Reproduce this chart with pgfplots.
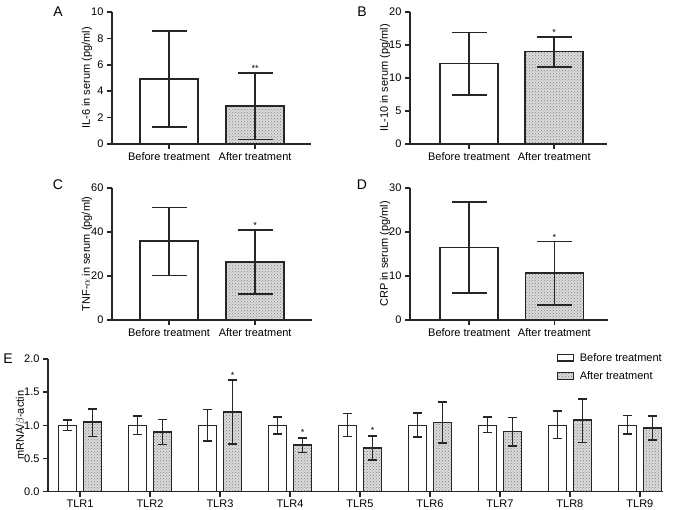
\documentclass[border=0pt]{standalone}
\usepackage{fontspec}
\setmainfont{Liberation Sans}
\usepackage{pgfplots}
\usepackage{pgfplotstable}
\pgfplotsset{compat=1.18}
\usetikzlibrary{patterns}

\newcommand{\lbl}{\fontsize{11}{13}\selectfont}
\newcommand{\sig}{\fontsize{9}{10}\selectfont}

% panels A-D: row 0 = before treatment, row 1 = after treatment
\pgfplotstableread{
x y ep em
1 4.92 3.63 3.62
2 2.88 2.52 2.53
}\tabA
\pgfplotstableread{
x y ep em
1 12.2 4.7 4.8
2 14.0 2.2 2.3
}\tabB
\pgfplotstableread{
x y ep em
1 35.8 15.4 15.6
2 26.3 14.5 14.5
}\tabC
\pgfplotstableread{
x y ep em
1 16.5 10.3 10.4
2 10.7 7.1 7.3
}\tabD
% panel E: b = before, a = after
\pgfplotstableread{
x b bep bem a aep aem
1 1.0 0.08 0.08 1.05 0.20 0.22
2 1.0 0.14 0.14 0.90 0.19 0.19
3 1.0 0.24 0.24 1.20 0.48 0.48
4 1.0 0.13 0.13 0.70 0.11 0.11
5 1.0 0.18 0.17 0.66 0.18 0.18
6 1.0 0.19 0.18 1.045 0.305 0.315
7 1.0 0.13 0.11 0.91 0.21 0.22
8 1.0 0.22 0.20 1.08 0.32 0.34
9 1.0 0.15 0.13 0.96 0.18 0.18
}\tabE

\pgfplotsset{
  panel/.style={
    scale only axis,
    axis x line*=bottom, axis y line*=left,
    axis line style={line width=1.5pt, black!85},
    tick style={line width=1.5pt, black!85},
    tick align=outside, major tick length=5pt,
    ymin=0, enlargelimits=false, clip=false,
    ybar,
    font=\lbl, tick label style={font=\lbl}, label style={font=\lbl},
    /pgf/number format/assume math mode=true,
  },
  small/.style={
    panel, bar width=58pt, bar shift=0pt,
    xtick={1,2}, xticklabels={Before treatment, After treatment},
  },
  before/.style={fill=white, draw=black!85, line width=1.5pt},
  after/.style={fill=black!14, draw=black!85, line width=1.5pt,
    postaction={pattern=crosshatch dots, pattern color=black!50}},
  errs/.style={draw=none, fill=none, forget plot,
    error bars/y dir=both, error bars/y explicit,
    error bars/error bar style={line width=1.6pt, draw=black!85},
    error bars/error mark options={rotate=90, line width=1.6pt, draw=black!85, mark size=#1}},
  ylab/.style={ylabel style={at={([xshift=#1]axis description cs:0,0.5)}, anchor=center}},
}

\begin{document}
\begin{tikzpicture}
\useasboundingbox (0,0) rectangle (677pt,510pt);

% A
\begin{axis}[small, at={(112pt,366pt)}, anchor=south west,
  width=199pt, height=132pt, xmin=0.337, xmax=2.65, ymax=10,
  ytick={0,2,...,10}, ylabel={IL-6 in serum (pg/ml)}, ylab=-25pt]
  \addplot[before, skip coords between index={1}{2}] table[x=x, y=y] {\tabA};
  \addplot[after, skip coords between index={0}{1}] table[x=x, y=y] {\tabA};
  \addplot[errs=17.5pt] table[x=x, y=y, y error plus=ep, y error minus=em] {\tabA};
  \node[font=\sig] at (axis cs:2,5.75) {**};
\end{axis}
\node[font=\fontsize{14}{16}\selectfont] at (58pt,498pt) {A};

% B
\begin{axis}[small, at={(410pt,366pt)}, anchor=south west,
  width=197pt, height=132pt, xmin=0.306, xmax=2.62, ymax=20,
  ytick={0,5,...,20}, ylabel={IL-10 in serum (pg/ml)}, ylab=-25pt]
  \addplot[before, skip coords between index={1}{2}] table[x=x, y=y] {\tabB};
  \addplot[after, skip coords between index={0}{1}] table[x=x, y=y] {\tabB};
  \addplot[errs=17.5pt] table[x=x, y=y, y error plus=ep, y error minus=em] {\tabB};
  \node[font=\sig] at (axis cs:2,16.9) {*};
\end{axis}
\node[font=\fontsize{14}{16}\selectfont] at (362pt,498pt) {B};

% C
\begin{axis}[small, at={(112pt,190pt)}, anchor=south west,
  width=200pt, height=132pt, xmin=0.337, xmax=2.66, ymax=60,
  ytick={0,20,40,60}, ylabel={TNF-$\alpha$ in serum (pg/ml)}, ylab=-25pt]
  \addplot[before, skip coords between index={1}{2}] table[x=x, y=y] {\tabC};
  \addplot[after, skip coords between index={0}{1}] table[x=x, y=y] {\tabC};
  \addplot[errs=17.5pt] table[x=x, y=y, y error plus=ep, y error minus=em] {\tabC};
  \node[font=\sig] at (axis cs:2,42.9) {*};
\end{axis}
\node[font=\fontsize{14}{16}\selectfont] at (58pt,325pt) {C};

% D
\begin{axis}[small, at={(410pt,190pt)}, anchor=south west,
  width=198pt, height=132pt, xmin=0.306, xmax=2.63, ymax=30,
  ytick={0,10,20,30}, ylabel={CRP in serum (pg/ml)}, ylab=-25pt]
  \addplot[before, skip coords between index={1}{2}] table[x=x, y=y] {\tabD};
  \addplot[after, skip coords between index={0}{1}] table[x=x, y=y] {\tabD};
  \addplot[errs=17.5pt] table[x=x, y=y, y error plus=ep, y error minus=em] {\tabD};
  \node[font=\sig] at (axis cs:2,18.8) {*};
\end{axis}
\node[font=\fontsize{14}{16}\selectfont] at (362pt,325pt) {D};

% E
\begin{axis}[panel, at={(48pt,18.3pt)}, anchor=south west,
  width=615pt, height=132.7pt, xmin=0.543, xmax=9.33, ymax=2,
  bar width=18pt,
  ytick={0,0.5,...,2},
  yticklabel style={/pgf/number format/.cd, fixed, fixed zerofill, precision=1},
  xtick={1,...,9},
  xticklabels={TLR1,TLR2,TLR3,TLR4,TLR5,TLR6,TLR7,TLR8,TLR9},
  ylabel={mRNA/$\beta$-actin}, ylab=-27pt,
  legend style={draw=none, fill=none, at={(0.822,1.075)}, anchor=north west,
    font=\lbl, row sep=5pt, column sep=4pt},
  legend image code/.code={\draw[#1, line width=1.1pt] (0pt,-3pt) rectangle (16pt,3.5pt);},
  legend cell align=left]
  \addplot[before, bar shift=-12.5pt] table[x=x, y=b] {\tabE};
  \addplot[after, bar shift=12.5pt] table[x=x, y=a] {\tabE};
  \addplot[bar shift=-12.5pt, errs=4.5pt] table[x=x, y=b, y error plus=bep, y error minus=bem] {\tabE};
  \addplot[bar shift=12.5pt, errs=4.5pt] table[x=x, y=a, y error plus=aep, y error minus=aem] {\tabE};
  \legend{Before treatment, After treatment}
  \node[font=\sig] at (axis cs:3.18,1.76) {*};
  \node[font=\sig] at (axis cs:4.18,0.9) {*};
  \node[font=\sig] at (axis cs:5.18,0.92) {*};
\end{axis}
\node[font=\fontsize{14}{16}\selectfont] at (8pt,151pt) {E};
\end{tikzpicture}
\end{document}
